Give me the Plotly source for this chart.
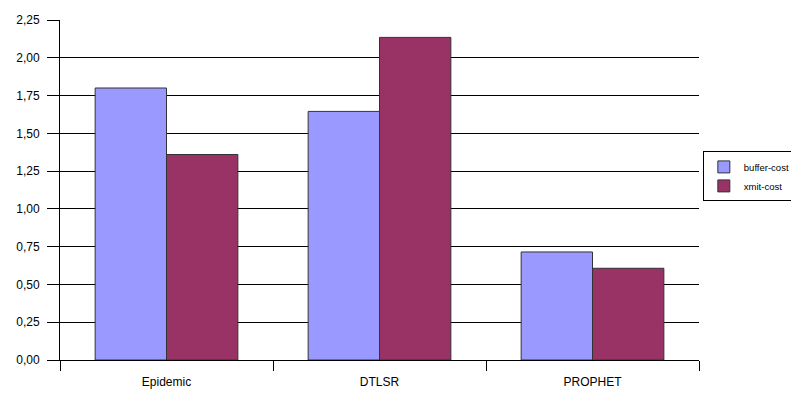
import plotly.graph_objects as go

categories = ["Epidemic", "DTLSR", "PROPHET"]
buffer_cost = [1.80, 1.645, 0.715]
xmit_cost = [1.36, 2.135, 0.607]
y_ticks = [0, 0.25, 0.5, 0.75, 1.0, 1.25, 1.5, 1.75, 2.0, 2.25]
y_labels = ["0,00", "0,25", "0,50", "0,75", "1,00", "1,25", "1,50", "1,75", "2,00", "2,25"]

fig = go.Figure()
fig.add_trace(go.Bar(name="buffer-cost", x=categories, y=buffer_cost,
                     marker=dict(color="#9999FF", line=dict(color="#333333", width=1))))
fig.add_trace(go.Bar(name="xmit-cost", x=categories, y=xmit_cost,
                     marker=dict(color="#993366", line=dict(color="#333333", width=1))))

fig.update_layout(
    width=791, height=399,
    margin=dict(l=60, r=92, t=20, b=39, autoexpand=False),
    paper_bgcolor="white", plot_bgcolor="white",
    barmode="group", bargap=0.33, bargroupgap=0,
    font=dict(family="Liberation Sans, Arial, sans-serif", size=12, color="#000000"),
    legend=dict(x=1.006, y=0.54, xanchor="left", yanchor="middle",
                bordercolor="#000000", borderwidth=1, bgcolor="white",
                font=dict(size=9.5), tracegroupgap=0, itemwidth=30),
    xaxis=dict(showline=True, linecolor="#000000", linewidth=1,
               ticks="outside", tickson="boundaries", ticklen=10, tickcolor="#000000",
               ticklabelstandoff=11,
               showgrid=False, range=[-0.5, 2.5]),
    yaxis=dict(range=[0, 2.25], tickvals=y_ticks, ticktext=y_labels,
               showline=True, linecolor="#000000", linewidth=1,
               ticks="outside", ticklen=12, tickcolor="#000000",
               ticklabelstandoff=5,
               showgrid=True, gridcolor="#000000", gridwidth=1,
               zeroline=False),
)

fig.write_html("out.html")
